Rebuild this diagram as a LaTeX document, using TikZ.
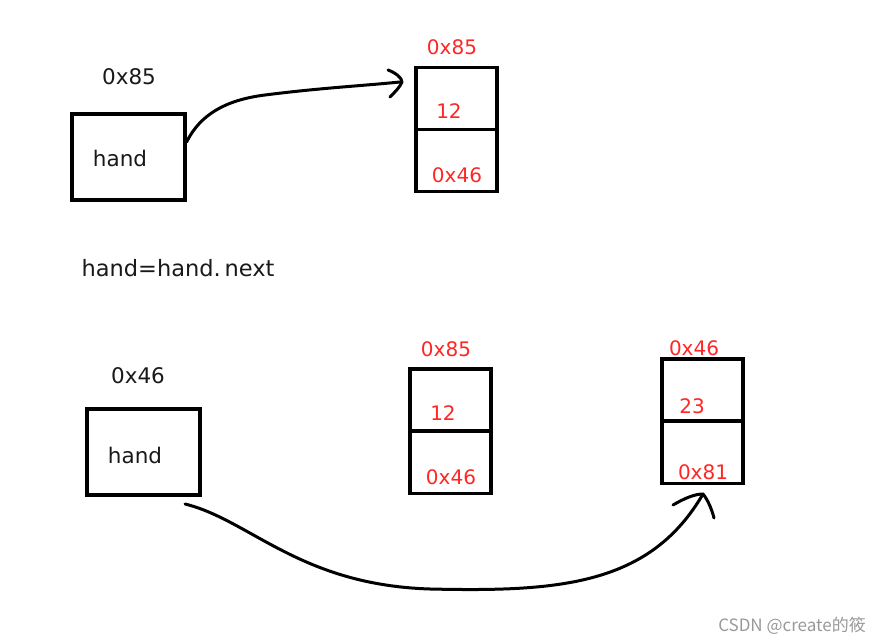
\documentclass[tikz,border=0pt]{standalone}
\usepackage{fontspec}
\setmainfont{DejaVu Sans}
\newfontfamily\cjkfont{Noto Sans CJK SC}
\begin{document}
\begin{tikzpicture}[x=1pt,y=-1pt,
  box/.style={draw=black,line width=3.2pt,minimum width=113pt,minimum height=86pt,inner sep=0pt},
  cell/.style={draw=black,line width=3.2pt,minimum width=81pt,minimum height=62pt,inner sep=0pt},
  blk/.style={font=\fontsize{21.5}{24}\selectfont,text=black!90,inner sep=0pt},
  red/.style={font=\fontsize{20}{24}\selectfont,text=red!85!white,inner sep=0pt},
  pen/.style={line width=3pt,black,line cap=round,line join=round}]
\useasboundingbox (0,0) rectangle (884,644);
% top row
\node[box] (h1) at (128.5,157) {};
\node[blk] (h1t) at (120,158) {hand};
\node[blk] (a1) at (129,77) {0x85};
\node[cell] (n1a) at (456.5,98.5) {};
\node[cell] (n1b) at (456.5,160.5) {};
\node[red] (n1l) at (452,47) {0x85};
\node[red] (n1v) at (449,111) {12};
\node[red] (n1n) at (457,175) {0x46};
% code
\node[blk,font=\fontsize{22.5}{24}\selectfont] (code) at (178,268) {hand=hand.\,next};
% bottom row
\node[box] (h2) at (143.5,452) {};
\node[blk] (h2t) at (135,455) {hand};
\node[blk] (a2) at (138,376) {0x46};
\node[cell] (n2a) at (450.5,400) {};
\node[cell] (n2b) at (450.5,462.5) {};
\node[red] (n2l) at (446,349) {0x85};
\node[red] (n2v) at (443,413) {12};
\node[red] (n2n) at (451,477) {0x46};
\node[cell] (n3a) at (702.5,390) {};
\node[cell] (n3b) at (702.5,452.5) {};
\node[red] (n3l) at (694,348) {0x46};
\node[red] (n3v) at (692,406) {23};
\node[red] (n3n) at (703,472) {0x81};
% watermark
\node[font=\cjkfont\fontsize{17}{20}\selectfont,text=black!40,inner sep=0pt] (wm) at (792,626) {CSDN @create的筱};
% top arrow
\coordinate (t1) at (400,82);
\draw[pen] (h1.east |- 0,142) .. controls (200,115) and (225,100) .. (265,95) .. controls (320,88) and (360,86) .. (t1);
\draw[pen] (388,70) .. controls (396,73) and (402,78) .. (402,82) .. controls (400,87) and (395,92) .. (390,97);
% bottom arrow
\coordinate (t2) at (703,494);
\draw[pen] (185,504) .. controls (250,520) and (300,585) .. (430,589) .. controls (560,592) and (650,585) .. (t2);
\draw[pen] (673,505) .. controls (685,498) and (695,494) .. (t2) .. controls (708,500) and (712,510) .. (714,518);
\end{tikzpicture}
\end{document}
